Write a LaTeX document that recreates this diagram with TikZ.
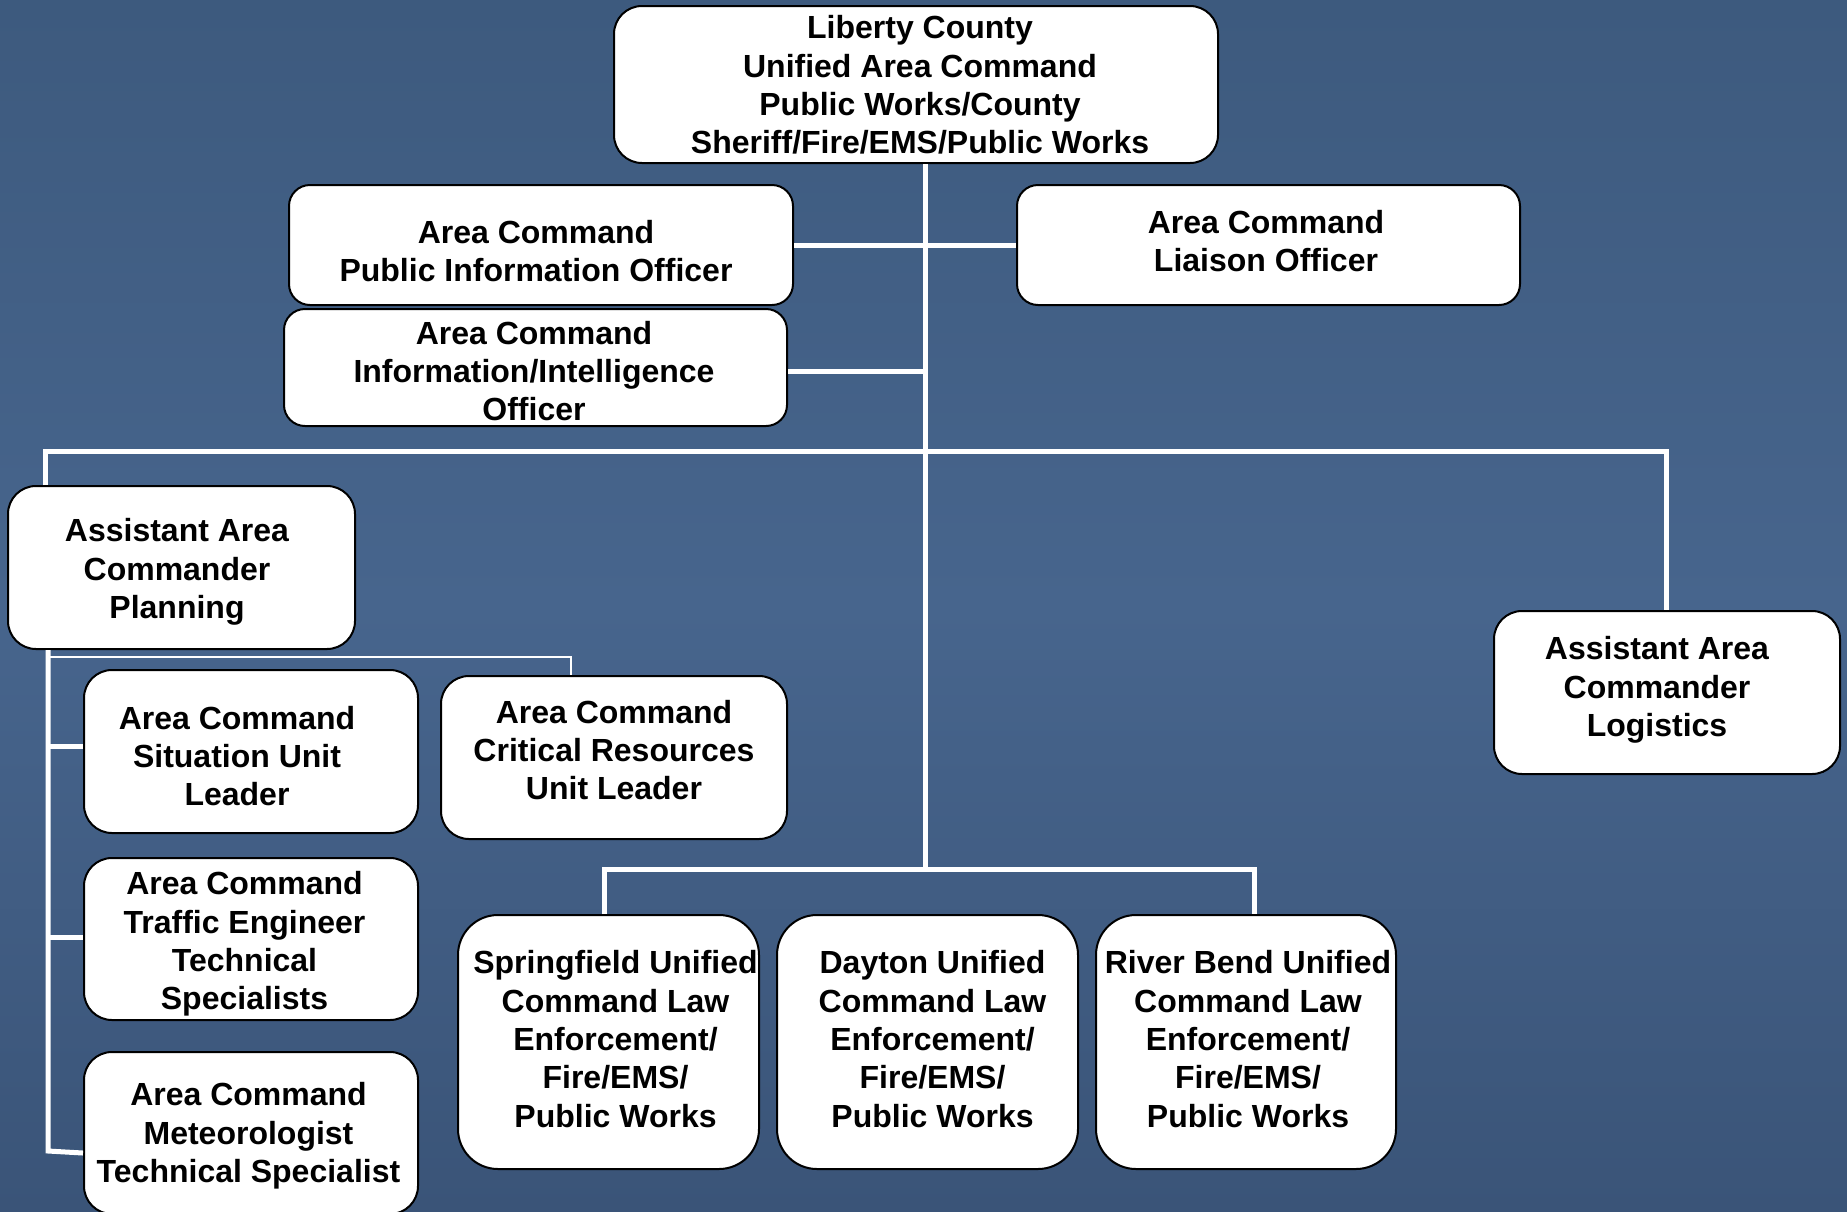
\documentclass[tikz,border=0pt]{standalone}
\usepackage{fontspec}
\setmainfont{Liberation Sans}
\usetikzlibrary{calc}
\definecolor{bgtop}{HTML}{3D5A7E}
\definecolor{bgmid}{HTML}{47658D}
\definecolor{bgbot}{HTML}{3A5478}
\tikzset{
  box/.style={draw=black, line width=2pt, fill=white, rectangle, inner sep=0pt},
  lbl/.style={align=center, font=\fontsize{32}{38.3}\selectfont\bfseries, inner sep=0pt},
  conn/.style={draw=white, line width=5pt},
  thinconn/.style={draw=white, line width=2pt},
}
\begin{document}
\begin{tikzpicture}[x=1pt,y=-1pt]
\shade[top color=bgtop, bottom color=bgbot, middle color=bgmid] (0,0) rectangle (1847,1211);
\useasboundingbox (0,0) rectangle (1847,1211);

% junction coordinates
\coordinate (jc) at (925,869);
\coordinate (hl) at (45,451);
\coordinate (hr) at (1666,451);
\coordinate (bl) at (604,869);
\coordinate (br) at (1254,869);
\coordinate (pv) at (48,1151);
\coordinate (tc) at (571,657);

% boxes
\node[box, rounded corners=28pt, minimum width=604pt, minimum height=157pt] (top) at (916,84.5) {};
\node[box, rounded corners=21pt, minimum width=504pt, minimum height=120pt] (pio) at (541,245) {};
\node[box, rounded corners=21pt, minimum width=503pt, minimum height=120pt] (liaison) at (1268.5,245) {};
\node[box, rounded corners=21pt, minimum width=503pt, minimum height=117pt] (info) at (535.5,367.5) {};
\node[box, rounded corners=28pt, minimum width=347pt, minimum height=163pt] (plan) at (181.5,567.5) {};
\node[box, rounded corners=28pt, minimum width=346pt, minimum height=163pt] (logi) at (1667,692.5) {};
\node[box, rounded corners=28pt, minimum width=334pt, minimum height=163pt] (sit) at (251,751.5) {};
\node[box, rounded corners=28pt, minimum width=346pt, minimum height=163pt] (crit) at (614,757.5) {};
\node[box, rounded corners=28pt, minimum width=334pt, minimum height=162pt] (traf) at (251,939) {};
\node[box, rounded corners=28pt, minimum width=334pt, minimum height=162pt] (met) at (251,1133) {};
\node[box, rounded corners=40pt, minimum width=301pt, minimum height=254pt] (spr) at (608.5,1042) {};
\node[box, rounded corners=40pt, minimum width=301pt, minimum height=254pt] (day) at (927.5,1042) {};
\node[box, rounded corners=40pt, minimum width=300pt, minimum height=254pt] (riv) at (1246,1042) {};

% texts
\node[lbl] (top-t) at (920,85) {Liberty County\\Unified Area Command\\Public Works/County\\Sheriff/Fire/EMS/Public Works};
\node[lbl] (pio-t) at (536,251) {Area Command\\Public Information Officer};
\node[lbl] (liaison-t) at (1266,241) {Area Command\\Liaison Officer};
\node[lbl] (info-t) at (534,371) {Area Command\\Information/Intelligence\\Officer};
\node[lbl] (plan-t) at (177,572) {Assistant Area\\Commander\\Planning};
\node[lbl] (logi-t) at (1657,690) {Assistant Area\\Commander\\Logistics};
\node[lbl] (sit-t) at (237,756) {Area Command\\Situation Unit\\Leader};
\node[lbl] (crit-t) at (614,750) {Area Command\\Critical Resources\\Unit Leader};
\node[lbl] (traf-t) at (244.5,944) {Area Command\\Traffic Engineer\\Technical\\Specialists};
\node[lbl] (met-t) at (248.5,1136) {Area Command\\Meteorologist\\Technical Specialist};
\node[lbl] (spr-t) at (615.5,1039) {Springfield Unified\\Command Law\\Enforcement/\\Fire/EMS/\\Public Works};
\node[lbl] (day-t) at (932.5,1039) {Dayton Unified\\Command Law\\Enforcement/\\Fire/EMS/\\Public Works};
\node[lbl] (riv-t) at (1248,1039) {River Bend Unified\\Command Law\\Enforcement/\\Fire/EMS/\\Public Works};

% connectors
\draw[conn] (top.south -| jc) -- (jc);
\draw[conn] (pio.east) -- (liaison.west);
\draw[conn] ($(info.east)+(0,4)$) -- ($(info.east -| jc)+(0,4)$);
\draw[conn] (plan.north -| hl) -- (hl) -- (hr) -- (logi.north -| hr);
\draw[conn] (spr.north -| bl) -- (bl) -- (br) -- (riv.north -| br);
\draw[conn] (plan.south -| pv) -- (pv) -- ($(met.west)+(0,20)$);
\draw[conn] ($(sit.west -| pv)+(0,-5)$) -- ($(sit.west)+(0,-5)$);
\draw[conn] ($(traf.west -| pv)+(0,-2)$) -- ($(traf.west)+(0,-2)$);
\draw[thinconn] (tc -| pv) -- (tc) -- (tc |- crit.north);
\end{tikzpicture}
\end{document}
